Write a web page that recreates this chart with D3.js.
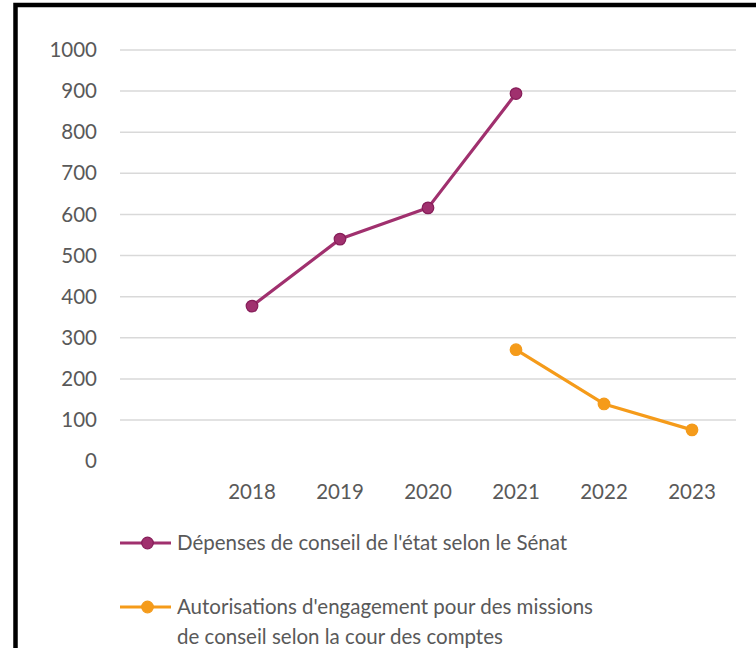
<!DOCTYPE html>
<html><head><meta charset="utf-8">
<script src="https://cdn.jsdelivr.net/npm/d3@7"></script>
<style>body{margin:0;background:#fff}svg{display:block}</style>
</head><body>
<svg id="c" width="756" height="648"></svg>
<script>
const categories = ["", "2018", "2019", "2020", "2021", "2022", "2023"];
const senatValues = [null, 377, 540, 616, 894, null, null];
const courValues = [null, null, null, null, 271, 139, 76];
const yTicks = [0, 100, 200, 300, 400, 500, 600, 700, 800, 900, 1000];
const seriesNames = ["Dépenses de conseil de l'état selon le Sénat",
  ["Autorisations d'engagement pour des missions", "de conseil selon la cour des comptes"]];
const colors = ["#a0306e", "#f59b1a"];
const strokeColors = ["#861d59", "#f39a1b"];

const svg = d3.select("#c");
const font = "Lato, 'Open Sans', sans-serif";
const textColor = "#595959";
const fs = 20.5;

// frame
svg.append("rect").attr("x", 15.5).attr("y", 5).attr("width", 760).attr("height", 700)
  .attr("fill", "none").attr("stroke", "#000").attr("stroke-width", 4.5);

const x = d3.scaleBand().domain(categories).range([120, 736]);
const y = d3.scaleLinear().domain([0, 1000]).range([461.1, 50]);

// gridlines (except 0)
svg.append("g").selectAll("line").data(yTicks.filter(d => d > 0)).join("line")
  .attr("x1", 120).attr("x2", 736)
  .attr("y1", d => y(d)).attr("y2", d => y(d))
  .attr("stroke", "#d9d9d9").attr("stroke-width", 1.5);

// y axis labels
const yAxis = d3.axisLeft(y).tickValues(yTicks).tickSize(0).tickPadding(0).tickFormat(d3.format("d"));
const gy = svg.append("g").attr("transform", "translate(97,0)").call(yAxis);
gy.select(".domain").remove();
gy.selectAll("text").attr("font-family", font).attr("font-size", fs).attr("fill", textColor);

// x axis labels
const xAxis = d3.axisBottom(x).tickSize(0).tickPadding(0);
const gx = svg.append("g").attr("transform", "translate(0,484)").call(xAxis);
gx.select(".domain").remove();
gx.selectAll("text").attr("font-family", font).attr("font-size", fs).attr("fill", textColor);

const cx = d => x(d) + x.bandwidth() / 2;
const line = d3.line().defined(d => d.v != null).x(d => cx(d.c)).y(d => y(d.v));

[senatValues, courValues].forEach((vals, i) => {
  const data = categories.map((c, k) => ({c, v: vals[k]}));
  svg.append("path").datum(data).attr("d", line).attr("fill", "none")
    .attr("stroke", colors[i]).attr("stroke-width", 3.2).attr("stroke-linejoin", "round");
  svg.append("g").selectAll("circle").data(data.filter(d => d.v != null)).join("circle")
    .attr("cx", d => cx(d.c)).attr("cy", d => y(d.v)).attr("r", 5.8)
    .attr("fill", colors[i]).attr("stroke", strokeColors[i]).attr("stroke-width", 1.2);
});

// legend
const legY = [543, 607];
seriesNames.forEach((name, i) => {
  const g = svg.append("g");
  g.append("line").attr("x1", 120).attr("x2", 171).attr("y1", legY[i]).attr("y2", legY[i])
    .attr("stroke", colors[i]).attr("stroke-width", 3.2);
  g.append("circle").attr("cx", 147.5).attr("cy", legY[i]).attr("r", 5.8)
    .attr("fill", colors[i]).attr("stroke", strokeColors[i]).attr("stroke-width", 1.2);
  const lines = Array.isArray(name) ? name : [name];
  const t = g.append("text").attr("font-family", font).attr("font-size", fs).attr("fill", textColor);
  lines.forEach((l, k) => {
    t.append("tspan").attr("x", 177).attr("y", legY[i] + 7 + k * 30).text(l);
  });
});
</script>
</body></html>
